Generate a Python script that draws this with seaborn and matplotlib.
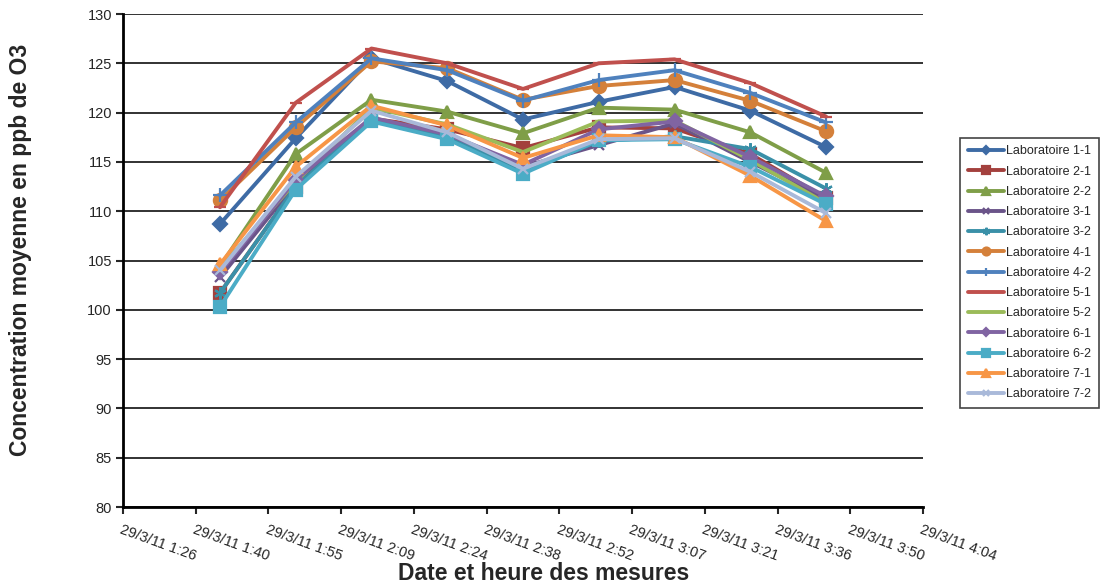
import matplotlib
matplotlib.use("Agg")
import matplotlib.pyplot as plt
import matplotlib.dates as mdates
import numpy as np
import pandas as pd
import seaborn as sns
from datetime import datetime, timedelta

# Measurement times (29 March 2011)
times = ["01:45:36", "02:00:36", "02:15:36", "02:30:36", "02:45:36",
         "03:00:36", "03:15:36", "03:30:36", "03:45:36"]

labs = ["Laboratoire 1-1", "Laboratoire 2-1", "Laboratoire 2-2", "Laboratoire 3-1",
        "Laboratoire 3-2", "Laboratoire 4-1", "Laboratoire 4-2", "Laboratoire 5-1",
        "Laboratoire 5-2", "Laboratoire 6-1", "Laboratoire 6-2", "Laboratoire 7-1",
        "Laboratoire 7-2"]

# Mean ozone concentration (ppb) per laboratory
lab_1_1 = [108.7, 117.4, 125.5, 123.2, 119.3, 121.1, 122.6, 120.2, 116.5]
lab_2_1 = [101.7, 112.5, 119.4, 118.3, 116.4, 118.5, 118.4, 115.8, 111.3]
lab_2_2 = [104.4, 115.8, 121.3, 120.1, 117.9, 120.5, 120.3, 118.0, 113.9]
lab_3_1 = [103.3, 112.8, 119.2, 117.6, 114.5, 116.7, 118.9, 115.0, 111.2]
lab_3_2 = [101.7, 112.5, 119.3, 117.6, 114.0, 117.1, 117.6, 116.3, 112.3]
lab_4_1 = [111.1, 118.5, 125.2, 124.5, 121.3, 122.7, 123.3, 121.2, 118.1]
lab_4_2 = [111.6, 119.0, 125.5, 124.3, 121.2, 123.3, 124.3, 122.0, 119.0]
lab_5_1 = [110.4, 121.0, 126.5, 125.0, 122.4, 125.0, 125.4, 123.0, 119.6]
lab_5_2 = [104.2, 113.0, 120.5, 118.8, 116.0, 119.1, 119.2, 115.2, 110.8]
lab_6_1 = [103.8, 113.2, 119.5, 117.8, 114.7, 118.3, 119.1, 115.5, 111.5]
lab_6_2 = [100.3, 112.2, 119.1, 117.3, 113.8, 117.2, 117.3, 114.5, 110.7]
lab_7_1 = [104.6, 114.5, 120.7, 118.7, 115.4, 117.7, 117.5, 113.6, 109.0]
lab_7_2 = [104.0, 113.5, 120.2, 118.0, 114.3, 117.3, 117.4, 114.0, 109.8]

series = [lab_1_1, lab_2_1, lab_2_2, lab_3_1, lab_3_2, lab_4_1, lab_4_2,
          lab_5_1, lab_5_2, lab_6_1, lab_6_2, lab_7_1, lab_7_2]

colors = ["#3E6BA5", "#A3403D", "#7F9E48", "#6A5489", "#3A90A8", "#D4803A", "#4F81BD",
          "#C0504D", "#9BBB59", "#8064A2", "#4BACC6", "#F79646", "#A9B9D9"]
markers = ["D", "s", "^", "x", (6, 2, 0), "o", "+", "_", "_", "D", "s", "^", "x"]
msizes = [7.5, 8.5, 8.5, 7, 9, 9.5, 10, 8, 6, 7.5, 8.5, 8.5, 7]

day = datetime(2011, 3, 29)
stamps = [day + timedelta(hours=int(t[:2]), minutes=int(t[3:5]), seconds=int(t[6:]))
          for t in times]

sns.set_theme(style="white")
plt.rcParams["font.family"] = ["Liberation Sans", "DejaVu Sans"]

fig = plt.figure(figsize=(11.07, 5.84), dpi=100)
ax = fig.add_axes([123 / 1107, 1 - 507 / 584, 800 / 1107, 493 / 584])

for lab, vals, c, mk, ms in zip(labs, series, colors, markers, msizes):
    frame = pd.DataFrame({"Date": stamps, "Concentration": vals})
    sns.lineplot(data=frame, x="Date", y="Concentration", color=c, marker=mk,
                 markersize=ms, markeredgecolor=c, markerfacecolor=c, markeredgewidth=1.6,
                 linewidth=2.8, label=lab, ax=ax, zorder=3)

# Axis ranges: x spans 0.06 to 0.17 day of 29/3/11 in steps of 0.01 day
base = mdates.date2num(day)
ticks = [base + 0.06 + 0.01 * i for i in range(12)]
ax.set_xlim(base + 0.06, base + 0.17)
ax.set_xticks(ticks)
tick_labels = []
for t in ticks:
    d = mdates.num2date(t + 1e-7)
    tick_labels.append(f"29/3/11 {d.hour}:{d.minute:02d}")
ax.set_xticklabels(tick_labels, rotation=-20, ha="left", va="top",
                   rotation_mode="anchor", fontsize=10.5)

ax.set_ylim(80, 130)
ax.set_yticks(np.arange(80, 131, 5))
ax.tick_params(axis="y", labelsize=10.5, length=5, width=1.5, direction="out", left=True, pad=3)
ax.tick_params(axis="x", length=5, width=1.5, direction="out", bottom=True, pad=6)

ax.grid(axis="y", color="#222222", linewidth=1.3)
ax.grid(axis="x", visible=False)
ax.set_axisbelow(True)
for side in ["top", "right"]:
    ax.spines[side].set_visible(False)
for side in ["left", "bottom"]:
    ax.spines[side].set_color("black")
    ax.spines[side].set_linewidth(2)

ax.set_xlabel("Date et heure des mesures", fontsize=16.5, fontweight="bold", va="center")
ax.xaxis.set_label_coords((544 - 123) / 800, (507 - 574) / 493)
ax.set_ylabel("Concentration moyenne en ppb de O3", fontsize=16.5, fontweight="bold",
              va="center")
ax.yaxis.set_label_coords((21 - 123) / 800, (507 - 250) / 493)

handles, labels = ax.get_legend_handles_labels()
leg = ax.legend(handles, labels, loc="upper left", bbox_to_anchor=(960 / 1107, 1 - 138 / 584),
                bbox_transform=fig.transFigure, fontsize=9, frameon=True, fancybox=False,
                edgecolor="#444444", framealpha=1, handlelength=2.9, handletextpad=0.2,
                labelspacing=0.66, borderpad=0.6, borderaxespad=0, markerscale=0.6)
leg.get_frame().set_linewidth(1.2)

fig.savefig("out.png", dpi=100)
